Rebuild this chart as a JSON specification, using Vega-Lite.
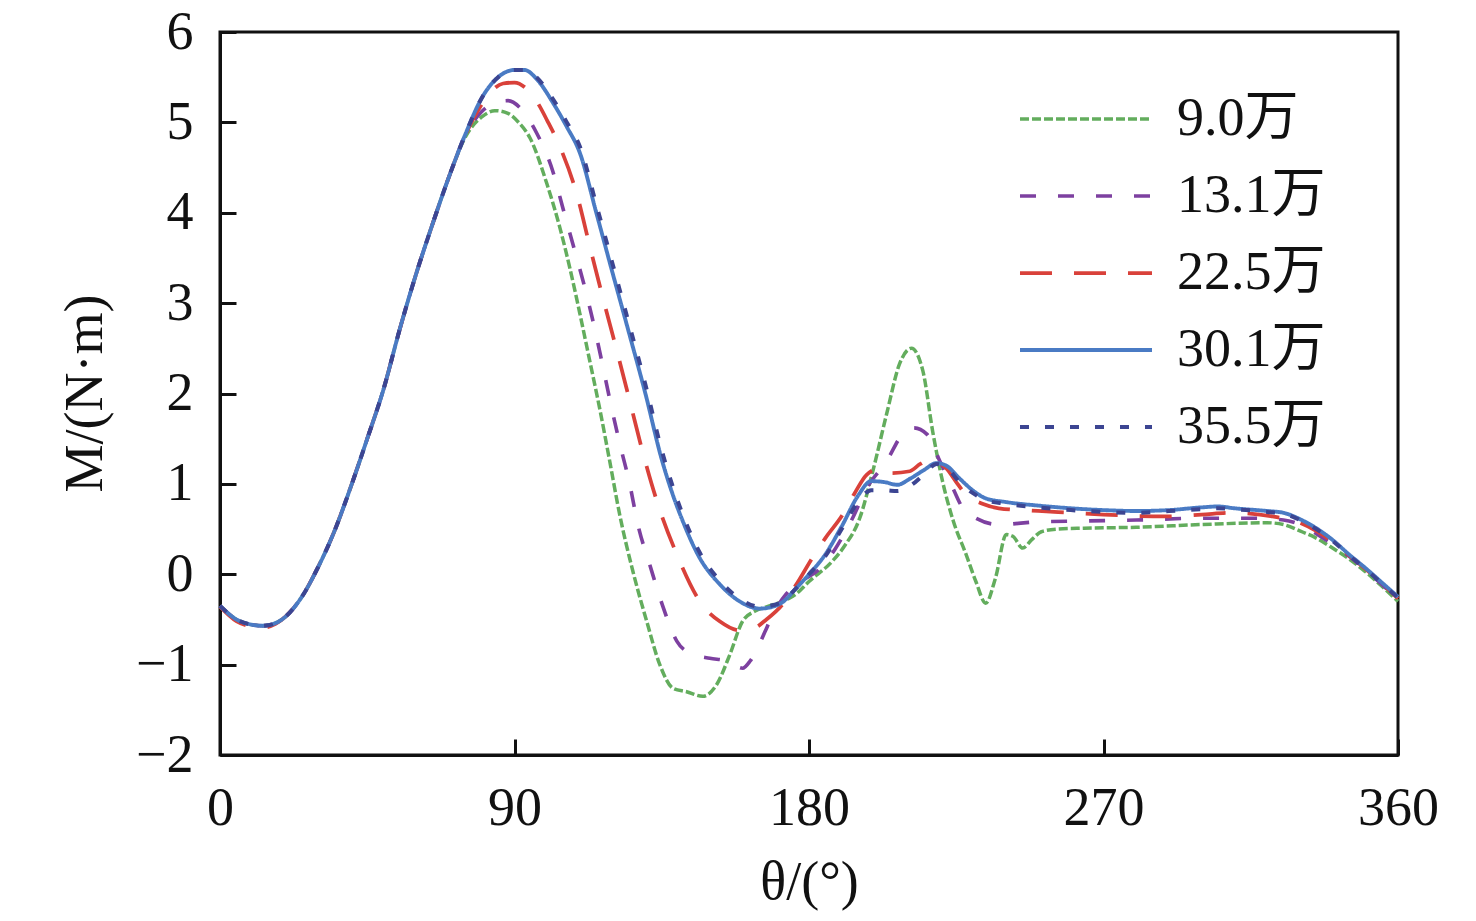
{
  "$schema": "https://vega.github.io/schema/vega-lite/v6.json",
  "autosize": "none",
  "width": 1178,
  "height": 723,
  "padding": {"left": 220, "top": 32, "right": 78, "bottom": 166},
  "background": "white",
  "data": {
    "values": [
      {"speed": "9.0万", "theta": 0, "M": -0.35}, {"speed": "9.0万", "theta": 5, "M": -0.5}, {"speed": "9.0万", "theta": 10, "M": -0.56}, {"speed": "9.0万", "theta": 13, "M": -0.57}, {"speed": "9.0万", "theta": 17, "M": -0.54}, {"speed": "9.0万", "theta": 20, "M": -0.47}, {"speed": "9.0万", "theta": 25, "M": -0.25}, {"speed": "9.0万", "theta": 30, "M": 0.08}, {"speed": "9.0万", "theta": 35, "M": 0.48}, {"speed": "9.0万", "theta": 40, "M": 0.97}, {"speed": "9.0万", "theta": 45, "M": 1.5}, {"speed": "9.0万", "theta": 50, "M": 2.05}, {"speed": "9.0万", "theta": 55, "M": 2.72}, {"speed": "9.0万", "theta": 60, "M": 3.33}, {"speed": "9.0万", "theta": 65, "M": 3.88}, {"speed": "9.0万", "theta": 70, "M": 4.4}, {"speed": "9.0万", "theta": 75, "M": 4.84},
      {"speed": "9.0万", "theta": 80, "M": 5.06}, {"speed": "9.0万", "theta": 84, "M": 5.13}, {"speed": "9.0万", "theta": 88, "M": 5.1}, {"speed": "9.0万", "theta": 91.5, "M": 4.99}, {"speed": "9.0万", "theta": 94.7, "M": 4.83}, {"speed": "9.0万", "theta": 99.9, "M": 4.32}, {"speed": "9.0万", "theta": 103.9, "M": 3.83}, {"speed": "9.0万", "theta": 106.9, "M": 3.39}, {"speed": "9.0万", "theta": 110, "M": 2.88}, {"speed": "9.0万", "theta": 113, "M": 2.36}, {"speed": "9.0万", "theta": 116, "M": 1.84}, {"speed": "9.0万", "theta": 119, "M": 1.27}, {"speed": "9.0万", "theta": 122.2, "M": 0.65}, {"speed": "9.0万", "theta": 126.2, "M": 0.03}, {"speed": "9.0万", "theta": 130.4, "M": -0.52}, {"speed": "9.0万", "theta": 134.4, "M": -1.0}, {"speed": "9.0万", "theta": 138.4, "M": -1.26}, {"speed": "9.0万", "theta": 142.6, "M": -1.3}, {"speed": "9.0万", "theta": 147.5, "M": -1.35}, {"speed": "9.0万", "theta": 151.8, "M": -1.22}, {"speed": "9.0万", "theta": 155.8, "M": -0.89}, {"speed": "9.0万", "theta": 159.7, "M": -0.52}, {"speed": "9.0万", "theta": 163.4, "M": -0.41}, {"speed": "9.0万", "theta": 167, "M": -0.36}, {"speed": "9.0万", "theta": 172, "M": -0.3}, {"speed": "9.0万", "theta": 176, "M": -0.22}, {"speed": "9.0万", "theta": 180, "M": -0.08}, {"speed": "9.0万", "theta": 187, "M": 0.14}, {"speed": "9.0万", "theta": 191, "M": 0.32}, {"speed": "9.0万", "theta": 195.5, "M": 0.62}, {"speed": "9.0万", "theta": 199.5, "M": 1.14}, {"speed": "9.0万", "theta": 203.7, "M": 1.77}, {"speed": "9.0万", "theta": 207.7, "M": 2.33}, {"speed": "9.0万", "theta": 211.3, "M": 2.5}, {"speed": "9.0万", "theta": 214.8, "M": 2.25}, {"speed": "9.0万", "theta": 217.8, "M": 1.58}, {"speed": "9.0万", "theta": 220.8, "M": 1.03}, {"speed": "9.0万", "theta": 224, "M": 0.6}, {"speed": "9.0万", "theta": 228, "M": 0.22}, {"speed": "9.0万", "theta": 231, "M": -0.08}, {"speed": "9.0万", "theta": 234, "M": -0.32}, {"speed": "9.0万", "theta": 237, "M": -0.04}, {"speed": "9.0万", "theta": 240.3, "M": 0.44}, {"speed": "9.0万", "theta": 242.3, "M": 0.42}, {"speed": "9.0万", "theta": 245.3, "M": 0.29}, {"speed": "9.0万", "theta": 248, "M": 0.38}, {"speed": "9.0万", "theta": 251, "M": 0.47}, {"speed": "9.0万", "theta": 256, "M": 0.5}, {"speed": "9.0万", "theta": 264, "M": 0.51}, {"speed": "9.0万", "theta": 280, "M": 0.52}, {"speed": "9.0万", "theta": 300, "M": 0.55}, {"speed": "9.0万", "theta": 320, "M": 0.57}, {"speed": "9.0万", "theta": 325, "M": 0.55}, {"speed": "9.0万", "theta": 330, "M": 0.48}, {"speed": "9.0万", "theta": 335, "M": 0.4}, {"speed": "9.0万", "theta": 340, "M": 0.29}, {"speed": "9.0万", "theta": 345, "M": 0.17}, {"speed": "9.0万", "theta": 350, "M": 0.03}, {"speed": "9.0万", "theta": 355, "M": -0.13}, {"speed": "9.0万", "theta": 360, "M": -0.3},

      {"speed": "13.1万", "theta": 0, "M": -0.35}, {"speed": "13.1万", "theta": 5, "M": -0.5}, {"speed": "13.1万", "theta": 10, "M": -0.56}, {"speed": "13.1万", "theta": 13, "M": -0.57}, {"speed": "13.1万", "theta": 17, "M": -0.54}, {"speed": "13.1万", "theta": 20, "M": -0.47}, {"speed": "13.1万", "theta": 25, "M": -0.25}, {"speed": "13.1万", "theta": 30, "M": 0.08}, {"speed": "13.1万", "theta": 35, "M": 0.48}, {"speed": "13.1万", "theta": 40, "M": 0.97}, {"speed": "13.1万", "theta": 45, "M": 1.5}, {"speed": "13.1万", "theta": 50, "M": 2.05}, {"speed": "13.1万", "theta": 55, "M": 2.72}, {"speed": "13.1万", "theta": 60, "M": 3.33}, {"speed": "13.1万", "theta": 65, "M": 3.88}, {"speed": "13.1万", "theta": 70, "M": 4.4}, {"speed": "13.1万", "theta": 75, "M": 4.86},
      {"speed": "13.1万", "theta": 80, "M": 5.12}, {"speed": "13.1万", "theta": 84, "M": 5.22}, {"speed": "13.1万", "theta": 88, "M": 5.24}, {"speed": "13.1万", "theta": 92, "M": 5.15}, {"speed": "13.1万", "theta": 96.8, "M": 4.88}, {"speed": "13.1万", "theta": 101.7, "M": 4.46}, {"speed": "13.1万", "theta": 104.8, "M": 4.05}, {"speed": "13.1万", "theta": 108.4, "M": 3.58}, {"speed": "13.1万", "theta": 111.5, "M": 3.17}, {"speed": "13.1万", "theta": 114.5, "M": 2.72}, {"speed": "13.1万", "theta": 117, "M": 2.3}, {"speed": "13.1万", "theta": 119.5, "M": 1.87}, {"speed": "13.1万", "theta": 122.2, "M": 1.44}, {"speed": "13.1万", "theta": 125.2, "M": 1.0}, {"speed": "13.1万", "theta": 127.7, "M": 0.55}, {"speed": "13.1万", "theta": 131.3, "M": 0.11}, {"speed": "13.1万", "theta": 135, "M": -0.32}, {"speed": "13.1万", "theta": 139.6, "M": -0.74}, {"speed": "13.1万", "theta": 144, "M": -0.88}, {"speed": "13.1万", "theta": 149.7, "M": -0.93}, {"speed": "13.1万", "theta": 155, "M": -0.96}, {"speed": "13.1万", "theta": 159.7, "M": -1.04}, {"speed": "13.1万", "theta": 162, "M": -0.96}, {"speed": "13.1万", "theta": 164.5, "M": -0.8}, {"speed": "13.1万", "theta": 166.5, "M": -0.64}, {"speed": "13.1万", "theta": 169, "M": -0.44}, {"speed": "13.1万", "theta": 173, "M": -0.22}, {"speed": "13.1万", "theta": 178, "M": -0.07}, {"speed": "13.1万", "theta": 183, "M": 0.05}, {"speed": "13.1万", "theta": 188, "M": 0.28}, {"speed": "13.1万", "theta": 193.3, "M": 0.62}, {"speed": "13.1万", "theta": 197.6, "M": 0.95}, {"speed": "13.1万", "theta": 203.7, "M": 1.25}, {"speed": "13.1万", "theta": 208.6, "M": 1.55}, {"speed": "13.1万", "theta": 212, "M": 1.62}, {"speed": "13.1万", "theta": 216, "M": 1.55}, {"speed": "13.1万", "theta": 220, "M": 1.25}, {"speed": "13.1万", "theta": 224, "M": 0.95}, {"speed": "13.1万", "theta": 227, "M": 0.73}, {"speed": "13.1万", "theta": 231, "M": 0.62}, {"speed": "13.1万", "theta": 238, "M": 0.55}, {"speed": "13.1万", "theta": 250, "M": 0.58}, {"speed": "13.1万", "theta": 265, "M": 0.59}, {"speed": "13.1万", "theta": 280, "M": 0.6}, {"speed": "13.1万", "theta": 300, "M": 0.62}, {"speed": "13.1万", "theta": 315, "M": 0.62}, {"speed": "13.1万", "theta": 325, "M": 0.6}, {"speed": "13.1万", "theta": 330, "M": 0.55}, {"speed": "13.1万", "theta": 335, "M": 0.45}, {"speed": "13.1万", "theta": 340, "M": 0.33}, {"speed": "13.1万", "theta": 345, "M": 0.2}, {"speed": "13.1万", "theta": 350, "M": 0.05}, {"speed": "13.1万", "theta": 355, "M": -0.11}, {"speed": "13.1万", "theta": 360, "M": -0.28},

      {"speed": "22.5万", "theta": 0, "M": -0.36}, {"speed": "22.5万", "theta": 5, "M": -0.52}, {"speed": "22.5万", "theta": 10, "M": -0.58}, {"speed": "22.5万", "theta": 13, "M": -0.59}, {"speed": "22.5万", "theta": 17, "M": -0.55}, {"speed": "22.5万", "theta": 20, "M": -0.47}, {"speed": "22.5万", "theta": 25, "M": -0.25}, {"speed": "22.5万", "theta": 30, "M": 0.08}, {"speed": "22.5万", "theta": 35, "M": 0.48}, {"speed": "22.5万", "theta": 40, "M": 0.97}, {"speed": "22.5万", "theta": 45, "M": 1.5}, {"speed": "22.5万", "theta": 50, "M": 2.05}, {"speed": "22.5万", "theta": 55, "M": 2.72}, {"speed": "22.5万", "theta": 60, "M": 3.33}, {"speed": "22.5万", "theta": 65, "M": 3.88}, {"speed": "22.5万", "theta": 70, "M": 4.4}, {"speed": "22.5万", "theta": 75, "M": 4.86},
      {"speed": "22.5万", "theta": 80, "M": 5.2}, {"speed": "22.5万", "theta": 86.5, "M": 5.43}, {"speed": "22.5万", "theta": 90, "M": 5.44}, {"speed": "22.5万", "theta": 94, "M": 5.36}, {"speed": "22.5万", "theta": 97, "M": 5.22}, {"speed": "22.5万", "theta": 100, "M": 5.02}, {"speed": "22.5万", "theta": 104, "M": 4.72}, {"speed": "22.5万", "theta": 109, "M": 4.21}, {"speed": "22.5万", "theta": 113, "M": 3.63}, {"speed": "22.5万", "theta": 117, "M": 3.06}, {"speed": "22.5万", "theta": 121.3, "M": 2.47}, {"speed": "22.5万", "theta": 125.2, "M": 1.92}, {"speed": "22.5万", "theta": 129.2, "M": 1.35}, {"speed": "22.5万", "theta": 133.6, "M": 0.8}, {"speed": "22.5万", "theta": 139.6, "M": 0.22}, {"speed": "22.5万", "theta": 147.2, "M": -0.33}, {"speed": "22.5万", "theta": 152.7, "M": -0.52}, {"speed": "22.5万", "theta": 158.8, "M": -0.62}, {"speed": "22.5万", "theta": 163, "M": -0.6}, {"speed": "22.5万", "theta": 167, "M": -0.5}, {"speed": "22.5万", "theta": 172, "M": -0.33}, {"speed": "22.5万", "theta": 176, "M": -0.12}, {"speed": "22.5万", "theta": 181, "M": 0.18}, {"speed": "22.5万", "theta": 185, "M": 0.4}, {"speed": "22.5万", "theta": 190.3, "M": 0.66}, {"speed": "22.5万", "theta": 194, "M": 0.9}, {"speed": "22.5万", "theta": 197.6, "M": 1.1}, {"speed": "22.5万", "theta": 201.6, "M": 1.17}, {"speed": "22.5万", "theta": 205, "M": 1.12}, {"speed": "22.5万", "theta": 210.8, "M": 1.14}, {"speed": "22.5万", "theta": 214, "M": 1.22}, {"speed": "22.5万", "theta": 217, "M": 1.27}, {"speed": "22.5万", "theta": 222, "M": 1.17}, {"speed": "22.5万", "theta": 225, "M": 1.02}, {"speed": "22.5万", "theta": 228, "M": 0.88}, {"speed": "22.5万", "theta": 233, "M": 0.78}, {"speed": "22.5万", "theta": 238, "M": 0.73}, {"speed": "22.5万", "theta": 250, "M": 0.7}, {"speed": "22.5万", "theta": 260, "M": 0.68}, {"speed": "22.5万", "theta": 270, "M": 0.66}, {"speed": "22.5万", "theta": 289, "M": 0.64}, {"speed": "22.5万", "theta": 300, "M": 0.66}, {"speed": "22.5万", "theta": 309, "M": 0.68}, {"speed": "22.5万", "theta": 321.6, "M": 0.64}, {"speed": "22.5万", "theta": 330, "M": 0.57}, {"speed": "22.5万", "theta": 335, "M": 0.48}, {"speed": "22.5万", "theta": 340, "M": 0.36}, {"speed": "22.5万", "theta": 345, "M": 0.21}, {"speed": "22.5万", "theta": 350, "M": 0.06}, {"speed": "22.5万", "theta": 355, "M": -0.1}, {"speed": "22.5万", "theta": 360, "M": -0.27},

      {"speed": "30.1万", "theta": 0, "M": -0.35}, {"speed": "30.1万", "theta": 5, "M": -0.5}, {"speed": "30.1万", "theta": 10, "M": -0.56}, {"speed": "30.1万", "theta": 13, "M": -0.57}, {"speed": "30.1万", "theta": 17, "M": -0.54}, {"speed": "30.1万", "theta": 20, "M": -0.47}, {"speed": "30.1万", "theta": 25, "M": -0.25}, {"speed": "30.1万", "theta": 30, "M": 0.08}, {"speed": "30.1万", "theta": 35, "M": 0.48}, {"speed": "30.1万", "theta": 40, "M": 0.97}, {"speed": "30.1万", "theta": 45, "M": 1.5}, {"speed": "30.1万", "theta": 50, "M": 2.05}, {"speed": "30.1万", "theta": 55, "M": 2.72}, {"speed": "30.1万", "theta": 60, "M": 3.33}, {"speed": "30.1万", "theta": 65, "M": 3.88}, {"speed": "30.1万", "theta": 70, "M": 4.4}, {"speed": "30.1万", "theta": 75, "M": 4.87},
      {"speed": "30.1万", "theta": 80, "M": 5.27}, {"speed": "30.1万", "theta": 85, "M": 5.5}, {"speed": "30.1万", "theta": 90, "M": 5.58}, {"speed": "30.1万", "theta": 93, "M": 5.58}, {"speed": "30.1万", "theta": 97, "M": 5.47}, {"speed": "30.1万", "theta": 101.7, "M": 5.22}, {"speed": "30.1万", "theta": 106, "M": 4.95}, {"speed": "30.1万", "theta": 110, "M": 4.66}, {"speed": "30.1万", "theta": 115, "M": 4.0}, {"speed": "30.1万", "theta": 120, "M": 3.33}, {"speed": "30.1万", "theta": 125, "M": 2.67}, {"speed": "30.1万", "theta": 130, "M": 2.0}, {"speed": "30.1万", "theta": 135, "M": 1.27}, {"speed": "30.1万", "theta": 138, "M": 0.92}, {"speed": "30.1万", "theta": 141.4, "M": 0.59}, {"speed": "30.1万", "theta": 146.6, "M": 0.18}, {"speed": "30.1万", "theta": 152.7, "M": -0.11}, {"speed": "30.1万", "theta": 158.8, "M": -0.3}, {"speed": "30.1万", "theta": 165, "M": -0.38}, {"speed": "30.1万", "theta": 171, "M": -0.33}, {"speed": "30.1万", "theta": 176.2, "M": -0.15}, {"speed": "30.1万", "theta": 180, "M": 0.0}, {"speed": "30.1万", "theta": 185, "M": 0.22}, {"speed": "30.1万", "theta": 190, "M": 0.53}, {"speed": "30.1万", "theta": 195, "M": 0.87}, {"speed": "30.1万", "theta": 199, "M": 1.03}, {"speed": "30.1万", "theta": 203, "M": 1.02}, {"speed": "30.1万", "theta": 207, "M": 0.99}, {"speed": "30.1万", "theta": 211, "M": 1.06}, {"speed": "30.1万", "theta": 215, "M": 1.15}, {"speed": "30.1万", "theta": 219, "M": 1.23}, {"speed": "30.1万", "theta": 222, "M": 1.2}, {"speed": "30.1万", "theta": 226, "M": 1.06}, {"speed": "30.1万", "theta": 230, "M": 0.93}, {"speed": "30.1万", "theta": 234, "M": 0.84}, {"speed": "30.1万", "theta": 240, "M": 0.8}, {"speed": "30.1万", "theta": 250, "M": 0.76}, {"speed": "30.1万", "theta": 260, "M": 0.73}, {"speed": "30.1万", "theta": 270, "M": 0.71}, {"speed": "30.1万", "theta": 280, "M": 0.7}, {"speed": "30.1万", "theta": 290, "M": 0.71}, {"speed": "30.1万", "theta": 300, "M": 0.74}, {"speed": "30.1万", "theta": 305, "M": 0.75}, {"speed": "30.1万", "theta": 310, "M": 0.73}, {"speed": "30.1万", "theta": 320, "M": 0.7}, {"speed": "30.1万", "theta": 325, "M": 0.68}, {"speed": "30.1万", "theta": 330, "M": 0.61}, {"speed": "30.1万", "theta": 335, "M": 0.51}, {"speed": "30.1万", "theta": 340, "M": 0.38}, {"speed": "30.1万", "theta": 345, "M": 0.22}, {"speed": "30.1万", "theta": 350, "M": 0.07}, {"speed": "30.1万", "theta": 355, "M": -0.09}, {"speed": "30.1万", "theta": 360, "M": -0.25},

      {"speed": "35.5万", "theta": 0, "M": -0.35}, {"speed": "35.5万", "theta": 5, "M": -0.5}, {"speed": "35.5万", "theta": 10, "M": -0.56}, {"speed": "35.5万", "theta": 13, "M": -0.57}, {"speed": "35.5万", "theta": 17, "M": -0.54}, {"speed": "35.5万", "theta": 20, "M": -0.47}, {"speed": "35.5万", "theta": 25, "M": -0.25}, {"speed": "35.5万", "theta": 30, "M": 0.08}, {"speed": "35.5万", "theta": 35, "M": 0.48}, {"speed": "35.5万", "theta": 40, "M": 0.97}, {"speed": "35.5万", "theta": 45, "M": 1.5}, {"speed": "35.5万", "theta": 50, "M": 2.05}, {"speed": "35.5万", "theta": 55, "M": 2.72}, {"speed": "35.5万", "theta": 60, "M": 3.33}, {"speed": "35.5万", "theta": 65, "M": 3.88}, {"speed": "35.5万", "theta": 70, "M": 4.4}, {"speed": "35.5万", "theta": 75, "M": 4.87},
      {"speed": "35.5万", "theta": 80, "M": 5.27}, {"speed": "35.5万", "theta": 85, "M": 5.5}, {"speed": "35.5万", "theta": 90, "M": 5.58}, {"speed": "35.5万", "theta": 93, "M": 5.58}, {"speed": "35.5万", "theta": 97, "M": 5.49}, {"speed": "35.5万", "theta": 101.7, "M": 5.26}, {"speed": "35.5万", "theta": 106, "M": 5.0}, {"speed": "35.5万", "theta": 110, "M": 4.73}, {"speed": "35.5万", "theta": 115, "M": 4.09}, {"speed": "35.5万", "theta": 120, "M": 3.43}, {"speed": "35.5万", "theta": 125, "M": 2.77}, {"speed": "35.5万", "theta": 130, "M": 2.1}, {"speed": "35.5万", "theta": 135, "M": 1.37}, {"speed": "35.5万", "theta": 138, "M": 1.01}, {"speed": "35.5万", "theta": 141.4, "M": 0.66}, {"speed": "35.5万", "theta": 146.6, "M": 0.24}, {"speed": "35.5万", "theta": 152.7, "M": -0.07}, {"speed": "35.5万", "theta": 158.8, "M": -0.27}, {"speed": "35.5万", "theta": 165, "M": -0.36}, {"speed": "35.5万", "theta": 171, "M": -0.32}, {"speed": "35.5万", "theta": 176.2, "M": -0.15}, {"speed": "35.5万", "theta": 180, "M": 0.0}, {"speed": "35.5万", "theta": 185, "M": 0.2}, {"speed": "35.5万", "theta": 190, "M": 0.5}, {"speed": "35.5万", "theta": 195, "M": 0.8}, {"speed": "35.5万", "theta": 199, "M": 0.93}, {"speed": "35.5万", "theta": 203, "M": 0.93}, {"speed": "35.5万", "theta": 207, "M": 0.92}, {"speed": "35.5万", "theta": 211, "M": 0.98}, {"speed": "35.5万", "theta": 215, "M": 1.1}, {"speed": "35.5万", "theta": 219, "M": 1.22}, {"speed": "35.5万", "theta": 222, "M": 1.18}, {"speed": "35.5万", "theta": 226, "M": 1.02}, {"speed": "35.5万", "theta": 230, "M": 0.9}, {"speed": "35.5万", "theta": 234, "M": 0.82}, {"speed": "35.5万", "theta": 240, "M": 0.78}, {"speed": "35.5万", "theta": 250, "M": 0.74}, {"speed": "35.5万", "theta": 260, "M": 0.71}, {"speed": "35.5万", "theta": 270, "M": 0.69}, {"speed": "35.5万", "theta": 280, "M": 0.68}, {"speed": "35.5万", "theta": 290, "M": 0.7}, {"speed": "35.5万", "theta": 300, "M": 0.72}, {"speed": "35.5万", "theta": 305, "M": 0.73}, {"speed": "35.5万", "theta": 310, "M": 0.72}, {"speed": "35.5万", "theta": 320, "M": 0.69}, {"speed": "35.5万", "theta": 325, "M": 0.67}, {"speed": "35.5万", "theta": 330, "M": 0.6}, {"speed": "35.5万", "theta": 335, "M": 0.5}, {"speed": "35.5万", "theta": 340, "M": 0.37}, {"speed": "35.5万", "theta": 345, "M": 0.21}, {"speed": "35.5万", "theta": 350, "M": 0.06}, {"speed": "35.5万", "theta": 355, "M": -0.1}, {"speed": "35.5万", "theta": 360, "M": -0.26}
    ]
  },
  "mark": {"type": "line", "interpolate": "monotone"},
  "encoding": {
    "x": {
      "field": "theta",
      "type": "quantitative",
      "scale": {"domain": [0, 360], "nice": false, "zero": false},
      "axis": {
        "values": [0, 90, 180, 270, 360],
        "title": "θ/(°)",
        "labelPadding": 42,
        "titleX": 589,
        "titleY": 127,
        "titleBaseline": "middle"
      }
    },
    "y": {
      "field": "M",
      "type": "quantitative",
      "scale": {"domain": [-2, 6], "nice": false, "zero": false},
      "axis": {
        "values": [-2, -1, 0, 1, 2, 3, 4, 5, 6],
        "title": "M/(N·m)",
        "labelPadding": 43,
        "titleX": -135,
        "titleY": 361,
        "titleAngle": -90,
        "titleAlign": "center",
        "titleBaseline": "middle"
      }
    },
    "color": {
      "field": "speed",
      "type": "nominal",
      "title": null,
      "scale": {
        "domain": ["9.0万", "13.1万", "22.5万", "30.1万", "35.5万"],
        "range": ["#63ad5d", "#7d40a0", "#d9413a", "#4a7bc4", "#3c4592"]
      }
    },
    "strokeDash": {
      "field": "speed",
      "type": "nominal",
      "title": null,
      "scale": {
        "domain": ["9.0万", "13.1万", "22.5万", "30.1万", "35.5万"],
        "range": [[9, 3], [16, 22], [32, 22], [1, 0], [9, 16]]
      }
    },
    "strokeWidth": {
      "field": "speed",
      "type": "nominal",
      "title": null,
      "scale": {
        "domain": ["9.0万", "13.1万", "22.5万", "30.1万", "35.5万"],
        "range": [3.5, 4, 4, 5, 4]
      }
    }
  },
  "config": {
    "view": {"stroke": "#111111", "strokeWidth": 3},
    "axis": {
      "grid": false,
      "domainColor": "#111111",
      "domainWidth": 3,
      "tickColor": "#111111",
      "tickWidth": 3,
      "tickSize": -16,
      "labelFont": "Liberation Serif",
      "labelFontSize": 54,
      "labelColor": "#111111",
      "labelFlush": false,
      "labelOverlap": false,
      "titleFont": "Liberation Serif",
      "titleFontSize": 54,
      "titleFontWeight": "normal",
      "titleColor": "#111111"
    },
    "legend": {
      "orient": "none",
      "legendX": 839,
      "legendY": 60,
      "padding": 0,
      "symbolType": "M-5,0H5",
      "symbolSize": 697,
      "labelFont": "Liberation Serif, Noto Sans CJK SC",
      "labelFontSize": 54,
      "labelColor": "#111111",
      "labelOffset": 64,
      "rowPadding": 23
    }
  }
}
